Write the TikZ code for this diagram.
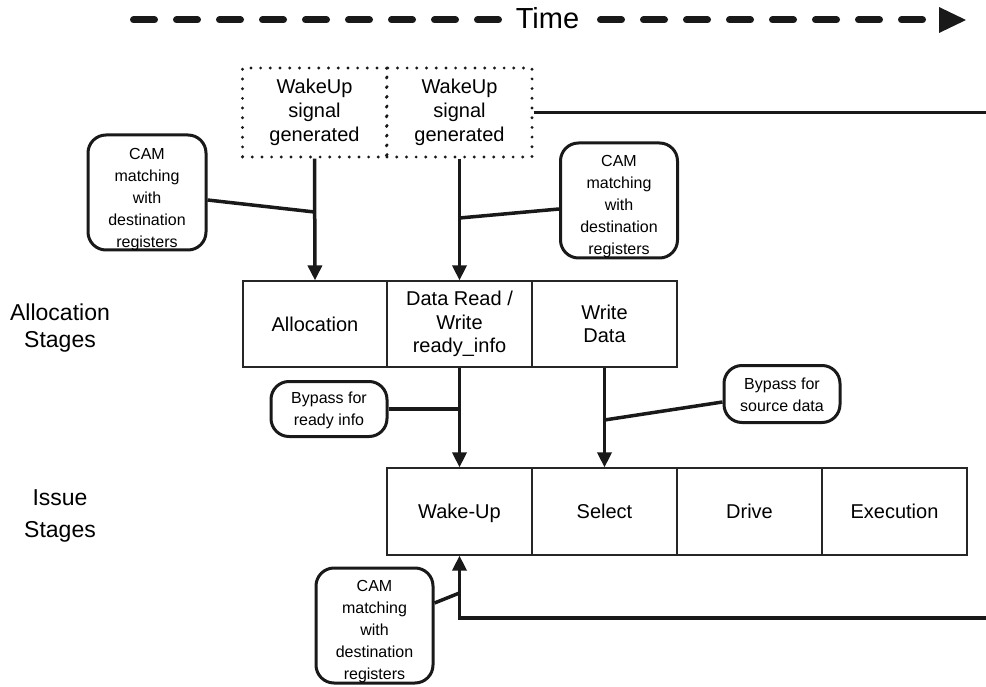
\documentclass[tikz,border=0pt]{standalone}
\usepackage{fontspec}
\setmainfont{Liberation Sans}
\usetikzlibrary{arrows.meta}
\begin{document}
\begin{tikzpicture}[x=1pt,y=-1pt,
  stage/.style={draw=black!85, line width=1.2pt, minimum width=145pt, minimum height=86pt, inner sep=0pt, align=center, font=\fontsize{20}{23.5}\selectfont},
  wake/.style={draw=black!90, line width=3.2pt, dash pattern=on 0pt off 9.7pt, line cap=round, minimum width=144pt, minimum height=89pt, inner sep=0pt, align=center, font=\fontsize{20}{24}\selectfont},
  callout/.style={draw=black!90, line width=3pt, rounded corners=18pt, inner sep=0pt},
  calltext/.style={inner sep=0pt, align=center, font=\fontsize{16}{22}\selectfont},
  shaft/.style={draw=black!90, line width=3.5pt},
  arr/.style={shaft, -{Triangle[width=14pt,length=15pt]}},
  lbl/.style={font=\fontsize{23}{27}\selectfont, anchor=base},
  timedash/.style={draw=black!90, line width=7pt, line cap=round, dash pattern=on 21pt off 22pt},
]
\useasboundingbox (0,0) rectangle (986,687);

% time axis
\node[font=\fontsize{29}{32}\selectfont, anchor=base, inner sep=0pt] (time) at (547.5,29) {Time};
\coordinate (tl) at (133.5,20);
\coordinate (tle) at (498.5,20);
\coordinate (trs) at (600.5,20);
\coordinate (tre) at (922.5,20);
\draw[timedash] (tl) -- (tle);
\draw[timedash] (trs) -- (tre);
\fill[black!90] (939,7) -- (966,20) -- (939,33) -- cycle;

% wakeup boxes
\node[wake] (wk1) at (314.5,112.5) {WakeUp\\signal\\generated};
\node[wake, minimum width=145pt] (wk2) at (459.5,112.5) {WakeUp\\signal\\generated};
\coordinate (redge) at (986,0);
\draw[shaft] (wk2.east) -- (wk2.east -| redge);

% allocation stages
\node[stage, minimum width=144pt] (al1) at (315,324) {Allocation};
\node[stage] (al2) at (459.5,324) {Data Read /\\Write\\ready\_info};
\node[stage] (al3) at (604.5,324) {Write\\Data};

% issue stages
\node[stage, minimum height=87pt, text depth=0pt] (is1) at (459.5,511.5) {Wake-Up};
\node[stage, minimum height=87pt] (is2) at (604.5,511.5) {Select};
\node[stage, minimum height=87pt] (is3) at (749.5,511.5) {Drive};
\node[stage, minimum height=87pt] (is4) at (894.5,511.5) {Execution};

% row labels
\node[lbl] (la1) at (60,320) {Allocation};
\node[lbl] (la2) at (60,347) {Stages};
\node[lbl] (li1) at (60,505) {Issue};
\node[lbl] (li2) at (60,537) {Stages};

% callouts
\node[callout, minimum width=118pt, minimum height=115pt] (camL) at (147,192.5) {};
\node[calltext] (camLt) at ([yshift=-7pt]camL.center) {CAM\\matching\\with\\destination\\registers};
\node[callout, minimum width=117pt, minimum height=115pt] (camR) at (619,200.5) {};
\node[calltext] (camRt) at ([yshift=-6pt]camR.center) {CAM\\matching\\with\\destination\\registers};
\node[callout, minimum width=117pt, minimum height=115pt] (camB) at (374.5,625.5) {};
\node[calltext] (camBt) at ([yshift=-6pt]camB.center) {CAM\\matching\\with\\destination\\registers};
\node[callout, minimum width=116pt, minimum height=55pt] (byR) at (329,409) {};
\node[calltext] (byRt) at ([yshift=-1pt]byR.center) {Bypass for\\ready info};
\node[callout, minimum width=116pt, minimum height=57pt] (byS) at (782,394) {};
\node[calltext] (bySt) at ([yshift=-1pt]byS.center) {Bypass for\\source data};

% arrows
\draw[arr] (wk1.south) -- (al1.north);
\draw[arr] (wk2.south) -- (al2.north);
\draw[arr] (al2.south) -- (is1.north);
\draw[arr] (al3.south) -- (is2.north);
\coordinate (b0) at (986,618);
\draw[arr] (b0) -| (is1.south);

% callout leaders
\coordinate (j1) at (314.5,212);
\coordinate (j2) at (459.5,218);
\coordinate (j4) at (604.5,420);
\coordinate (j5) at (459.5,593);
\draw[shaft] ([yshift=-7.5pt]camL.east) -- (j1);
\draw[shaft] ([yshift=-8.5pt]camR.west) -- (j2);
\draw[shaft] (byR.east) -- (byR.east -| al2.south);
\draw[shaft] (j4) -- ([yshift=-8pt]byS.west);
\draw[shaft] ([yshift=22.5pt]camB.east) -- (j5);
\end{tikzpicture}
\end{document}
